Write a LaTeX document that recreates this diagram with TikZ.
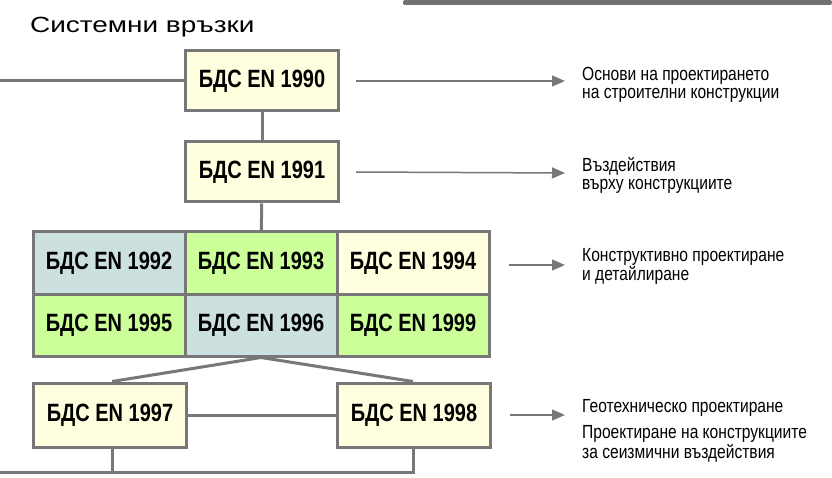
\documentclass[tikz,border=0pt]{standalone}
\usepackage{fontspec}
\setmainfont{Liberation Sans}
\newfontfamily\narrowfont[FakeStretch=0.82]{Liberation Sans}
\newfontfamily\labelfont[FakeStretch=0.8]{Liberation Sans}
\newfontfamily\widefont[FakeStretch=1.27]{Liberation Sans}
\usetikzlibrary{arrows.meta, positioning}

\definecolor{frame}{HTML}{777777}
\definecolor{pale}{HTML}{FFFFDF}
\definecolor{lime}{HTML}{CCFF99}
\definecolor{steel}{HTML}{CCE0E0}
\definecolor{bar}{HTML}{717171}

\begin{document}
\begin{tikzpicture}[
  x=1pt, y=-1pt,
  box/.style={draw=frame, line width=3pt, fill=pale, minimum width=153pt,
    minimum height=60pt, inner sep=0pt,
    font=\labelfont\bfseries\fontsize{25}{28}\selectfont},
  cell/.style={box, minimum width=152pt, minimum height=62pt},
  link/.style={draw=frame, line width=3pt},
  edge/.style={-{Triangle[length=13pt, width=11pt]}, draw=frame, line width=1.5pt},
  note/.style={anchor=west, align=left, inner sep=0pt,
    font=\narrowfont\fontsize{19}{18}\selectfont}
]
\useasboundingbox (0,0) rectangle (832,478);

% header
\fill[bar] (403,5) [rounded corners=2pt] -- (403,0) -- (832,0) -- (832,5) -- cycle;
\node[anchor=base west, inner sep=0pt, font=\widefont\fontsize{22}{26}\selectfont] (title)
  at (30,33) {Системни връзки};

% main column
\node[box] (n90) at (262,81) {БДС EN 1990};
\node[box] (n91) at (262,172) {БДС EN 1991};

\node[cell, fill=steel] (n92) at (109,263) {БДС EN 1992};
\node[cell, fill=lime] (n93) at (261,263) {БДС EN 1993};
\node[cell] (n94) at (413,263) {БДС EN 1994};
\node[cell, fill=lime] (n95) at (109,325) {БДС EN 1995};
\node[cell, fill=steel] (n96) at (261,325) {БДС EN 1996};
\node[cell, fill=lime] (n99) at (413,325) {БДС EN 1999};

\node[box, minimum height=64pt] (n97) at (110,415) {БДС EN 1997};
\node[box, minimum height=64pt] (n98) at (414,415) {БДС EN 1998};

% connectors
\coordinate (inL) at (0,81);
\coordinate (outL) at (0,472);
\draw[link] (inL) -- (n90);
\draw[link] (n90) -- (n91);
\draw[link] (n91) -- (n93);
\draw[link] (n96.south) -- ([xshift=2pt]n97.north);
\draw[link] (n96.south) -- ([xshift=-1pt]n98.north);
\draw[link] (n97) -- (n98);
\draw[link] ([xshift=2pt]n97.south) -- ([xshift=2pt]n97.south |- outL);
\draw[link] (outL) -| ([xshift=-1pt]n98.south);

% arrows and notes
\coordinate (a90) at (565,81);
\coordinate (a91) at (565,173);
\coordinate (a94) at (565,265);
\coordinate (a98) at (565,415);
\draw[edge] ([xshift=16pt]n90.east) -- (a90);
\draw[edge] ([xshift=16pt]n91.east) -- (a91);
\draw[edge] ([xshift=18pt]n94.east |- a94) -- (a94);
\draw[edge] ([xshift=18pt]n98.east) -- (a98);

\node[note, right=17pt of a90, yshift=-4pt] (t90) {Основи на проектирането\\на строителни конструкции};
\node[note, right=17pt of a91, yshift=-2pt] (t91) {Въздействия\\върху конструкциите};
\node[note, right=17pt of a94, yshift=-1pt] (t94) {Конструктивно проектиране\\и детайлиране};
\node[note, right=17pt of a98, yshift=7pt] (t97) {Геотехническо проектиране};
\node[note, below=9pt of t97.south west, anchor=north west] (t98)
  {Проектиране на конструкциите\\за сеизмични въздействия};
\end{tikzpicture}
\end{document}
